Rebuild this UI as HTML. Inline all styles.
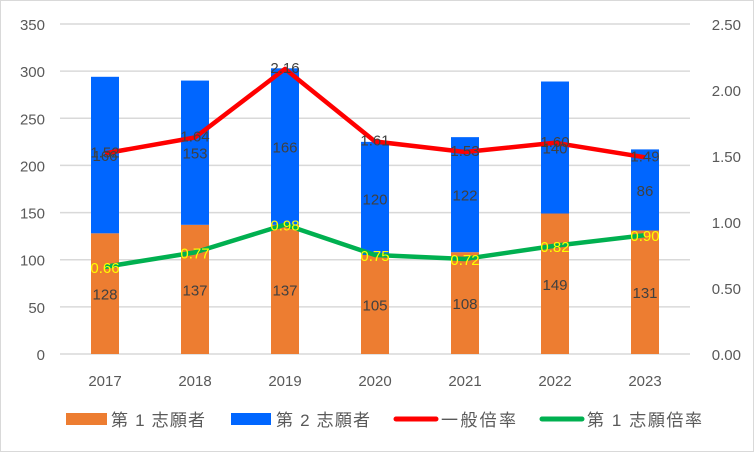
<!DOCTYPE html>
<html><head><meta charset="utf-8"><style>
body{margin:0;background:#fff}
svg{display:block;font-family:"Liberation Sans","Noto Sans CJK JP",sans-serif}
</style></head><body>
<svg id="c" width="754" height="452">
<rect x="0.5" y="0.5" width="753" height="451" fill="#fff" stroke="#d9d9d9"/>
<g id="grid"></g><g id="bars"></g><g id="lines"></g><g id="labels"></g><g id="axes"></g>
<g id="legend">
<rect x="66" y="413" width="41" height="12" fill="#ed7d31"/>
<text x="111" y="426" font-size="17" textLength="94" fill="#595959">第 1 志願者</text>
<rect x="231" y="413" width="40" height="12" fill="#0066ff"/>
<text x="276" y="426" font-size="17" textLength="94" fill="#595959">第 2 志願者</text>
<line x1="396" y1="419" x2="436" y2="419" stroke="#ff0000" stroke-width="5" stroke-linecap="round"/>
<text x="441" y="426" font-size="17" textLength="75" fill="#595959">一般倍率</text>
<line x1="542" y1="419" x2="582" y2="419" stroke="#00b050" stroke-width="5" stroke-linecap="round"/>
<text x="587" y="426" font-size="17" textLength="115" fill="#595959">第 1 志願倍率</text>
</g>
</svg>
<script>
const categories=["2017","2018","2019","2020","2021","2022","2023"];
const firstApplicants=[128,137,137,105,108,149,131];
const secondApplicants=[166,153,166,120,122,140,86];
const generalRate=[1.52,1.64,2.16,1.61,1.53,1.60,1.49];
const firstRate=[0.66,0.77,0.98,0.75,0.72,0.82,0.90];
const leftTicks=[0,50,100,150,200,250,300,350];
const rightTicks=["0.00","0.50","1.00","1.50","2.00","2.50"];
const NS="http://www.w3.org/2000/svg";
const y0=354,y1=24,x0=60,x1=690;
const yL=v=>y0-(v/350)*(y0-y1);
const yR=v=>y0-(v/2.5)*(y0-y1);
const band=(x1-x0)/categories.length;
const xc=i=>x0+band*(i+0.5);
function mk(tag,attrs,parent,txt){const e=document.createElementNS(NS,tag);for(const k in attrs)e.setAttribute(k,attrs[k]);if(txt!==undefined)e.textContent=txt;document.getElementById(parent).appendChild(e);return e;}
leftTicks.forEach(t=>{
 if(t>0){const l=mk("line",{x1:x0,x2:x1,y1:yL(t),y2:yL(t),stroke:"#d9d9d9","stroke-width":1.5},"grid");
 
 }
 const tx=mk("text",{x:45,y:yL(t)+6,"text-anchor":"end","font-size":"15",fill:"#595959"},"axes",String(t));
 
 
});
const base=mk("line",{x1:x0,x2:x1,y1:y0,y2:y0,stroke:"#d9d9d9","stroke-width":1.5},"grid");


rightTicks.forEach(t=>{
 const tx=mk("text",{x:741,y:yR(parseFloat(t))+6,"text-anchor":"end","font-size":"15",fill:"#595959"},"axes",t);
 
 
});
categories.forEach((c,i)=>{
 const tx=mk("text",{x:xc(i),y:386,"text-anchor":"middle","font-size":"15",fill:"#595959"},"axes",c);
 
 
 const w=28,a=firstApplicants[i],b=secondApplicants[i];
 const r1=mk("rect",{x:xc(i)-w/2,y:yL(a),width:w,height:y0-yL(a),fill:"#ed7d31"},"bars");
 
 
 const r2=mk("rect",{x:xc(i)-w/2,y:yL(a+b),width:w,height:yL(a)-yL(a+b),fill:"#0066ff"},"bars");
 
 
 const l1=mk("text",{x:xc(i),y:(yL(a)+y0)/2+6,"text-anchor":"middle","font-size":"15",fill:"#404040"},"labels",String(a));
 
 
 const l2=mk("text",{x:xc(i),y:(yL(a)+yL(a+b))/2+6,"text-anchor":"middle","font-size":"15",fill:"#404040"},"labels",String(b));
 
 
 const l3=mk("text",{x:xc(i),y:yR(generalRate[i])+4,"text-anchor":"middle","font-size":"15",fill:"#404040"},"labels",generalRate[i].toFixed(2));
 
 
 const l4=mk("text",{x:xc(i),y:yR(firstRate[i])+6,"text-anchor":"middle","font-size":"15",fill:"#ffff00"},"labels",firstRate[i].toFixed(2));
 
 
});
const p1=mk("polyline",{points:generalRate.map((v,i)=>xc(i)+","+yR(v)).join(" "),fill:"none",stroke:"#ff0000","stroke-width":4.5,"stroke-linejoin":"round"},"lines");


const p2=mk("polyline",{points:firstRate.map((v,i)=>xc(i)+","+yR(v)).join(" "),fill:"none",stroke:"#00b050","stroke-width":4.5,"stroke-linejoin":"round"},"lines");


</script>
</body></html>
